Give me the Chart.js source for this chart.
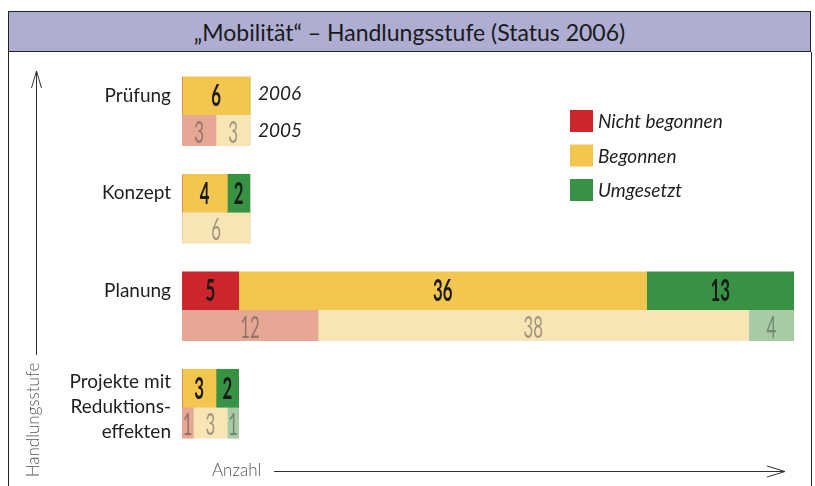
<!DOCTYPE html>
<html>
<head>
<meta charset="utf-8">
<script src="https://cdn.jsdelivr.net/npm/chart.js@4.4.0/dist/chart.umd.min.js"></script>
<style>
  html, body { margin: 0; padding: 0; background: #fff; }
  #wrap { position: relative; width: 815px; height: 486px; overflow: hidden; }
  #frame { position: absolute; left: 8px; top: 52px; width: 802px; height: 440px;
    border-left: 1.5px solid #222; border-right: 1.5px solid #222; }
  #title { position: absolute; left: 8px; top: 11px; width: 801px; height: 39px;
    background: #aeaed2; border: 1.5px solid #222; text-align: center;
    font: 23px Lato, sans-serif; line-height: 40px; color: #1a1a1a; }
  canvas { position: absolute; left: 0; top: 0; }
</style>
</head>
<body>
<div id="wrap">
  <div id="frame"></div>
  <div id="title">„Mobilität“ – Handlungsstufe (Status 2006)</div>
  <canvas id="c" width="815" height="486"></canvas>
</div>
<script>
// categories and counts
const categories = ['Prüfung', 'Konzept', 'Planung', ['Projekte mit', 'Reduktions-', 'effekten']];
const nicht2006 = [0, 0, 5, 0];
const begonnen2006 = [6, 4, 36, 3];
const umgesetzt2006 = [0, 2, 13, 2];
const nicht2005 = [3, 0, 12, 1];
const begonnen2005 = [3, 6, 38, 3];
const umgesetzt2005 = [0, 0, 4, 1];
const legendLabels = ['Nicht begonnen', 'Begonnen', 'Umgesetzt'];
const yearLabels = ['2006', '2005'];

const strong = ['#cc252b', '#f3c74f', '#379343'];
const faded = ['#e6a794', '#f8e5b6', '#a8caa5'];

function ds(label, data, color, stack, thick) {
  return { label, data, backgroundColor: color, stack, barThickness: thick, borderWidth: 0 };
}

const deco = {
  id: 'deco',
  afterDatasetsDraw(chart) {
    const ctx = chart.ctx;
    const y = chart.scales.y;
    const area = chart.chartArea;
    ctx.save();
    // numbers inside the bars
    chart.data.datasets.forEach((d, i) => {
      const meta = chart.getDatasetMeta(i);
      const old = d.stack === '2005';
      meta.data.forEach((bar, j) => {
        const v = d.data[j];
        if (!v) return;
        const cx = (bar.x + bar.base) / 2;
        ctx.save();
        ctx.translate(cx, bar.y + (old ? 3 : 1));
        ctx.scale(0.56, 1);
        ctx.font = (old ? '400 ' : '700 ') + '30px Lato, sans-serif';
        ctx.fillStyle = old ? 'rgba(50,50,50,0.45)' : '#1a1a1a';
        ctx.textAlign = 'center';
        ctx.textBaseline = 'middle';
        ctx.fillText(String(v), 0, 0);
        ctx.restore();
      });
    });
    // category labels
    const m06 = chart.getDatasetMeta(0);
    ctx.font = '19px Lato, sans-serif';
    ctx.fillStyle = '#1e1e1e';
    ctx.textAlign = 'right';
    ctx.textBaseline = 'middle';
    categories.forEach((lab, j) => {
      const lines = Array.isArray(lab) ? lab : [lab];
      const c = lines.length > 1 ? y.getPixelForValue(j) : m06.data[j].y;
      lines.forEach((t, k) => {
        ctx.fillText(t, area.left - 11, c + (k - (lines.length - 1) / 2) * 25);
      });
    });
    // year labels next to first group
    const m05 = chart.getDatasetMeta(3);
    const endX = Math.max(chart.getDatasetMeta(2).data[0].x, chart.getDatasetMeta(5).data[0].x);
    ctx.font = 'italic 19px Lato, sans-serif';
    ctx.textAlign = 'left';
    ctx.fillText(yearLabels[0], endX + 8, m06.data[0].y - 2);
    ctx.fillText(yearLabels[1], endX + 8, m05.data[0].y + 1);
    // legend
    legendLabels.forEach((t, k) => {
      const ly = 110 + k * 34.5;
      ctx.fillStyle = strong[k];
      ctx.fillRect(570, ly, 23, 22);
      ctx.fillStyle = '#1e1e1e';
      ctx.font = 'italic 19px Lato, sans-serif';
      ctx.fillText(t, 598, ly + 12);
    });
    // axis arrows
    ctx.strokeStyle = '#333';
    ctx.lineWidth = 1;
    ctx.beginPath();
    ctx.moveTo(36.5, 355); ctx.lineTo(36.5, 71);
    ctx.moveTo(31.5, 88); ctx.lineTo(36.5, 71); ctx.lineTo(41.5, 88);
    ctx.moveTo(274, 471.5); ctx.lineTo(785, 471.5);
    ctx.moveTo(767, 466); ctx.lineTo(785, 471.5); ctx.lineTo(767, 477);
    ctx.stroke();
    ctx.fillStyle = '#555';
    ctx.font = '300 17px Lato, sans-serif';
    ctx.textAlign = 'left';
    ctx.fillText('Anzahl', 212, 471);
    ctx.save();
    ctx.translate(34, 420);
    ctx.rotate(-Math.PI / 2);
    ctx.textAlign = 'center';
    ctx.fillText('Handlungsstufe', 0, 0);
    ctx.restore();
    ctx.restore();
  }
};

new Chart(document.getElementById('c'), {
  type: 'bar',
  data: {
    labels: categories,
    datasets: [
      ds(legendLabels[0], nicht2006, strong[0], '2006', 38),
      ds(legendLabels[1], begonnen2006, strong[1], '2006', 38),
      ds(legendLabels[2], umgesetzt2006, strong[2], '2006', 38),
      ds(legendLabels[0] + ' 2005', nicht2005, faded[0], '2005', 31),
      ds(legendLabels[1] + ' 2005', begonnen2005, faded[1], '2005', 31),
      ds(legendLabels[2] + ' 2005', umgesetzt2005, faded[2], '2005', 31)
    ]
  },
  options: {
    indexAxis: 'y',
    responsive: false,
    animation: false,
    layout: { padding: { left: 182, right: 21, top: 66, bottom: 30 } },
    scales: {
      x: { stacked: true, min: 0, max: 54, display: false },
      y: { display: false }
    },
    plugins: { legend: { display: false }, tooltip: { enabled: false } }
  },
  plugins: [deco]
});
</script>
</body>
</html>
